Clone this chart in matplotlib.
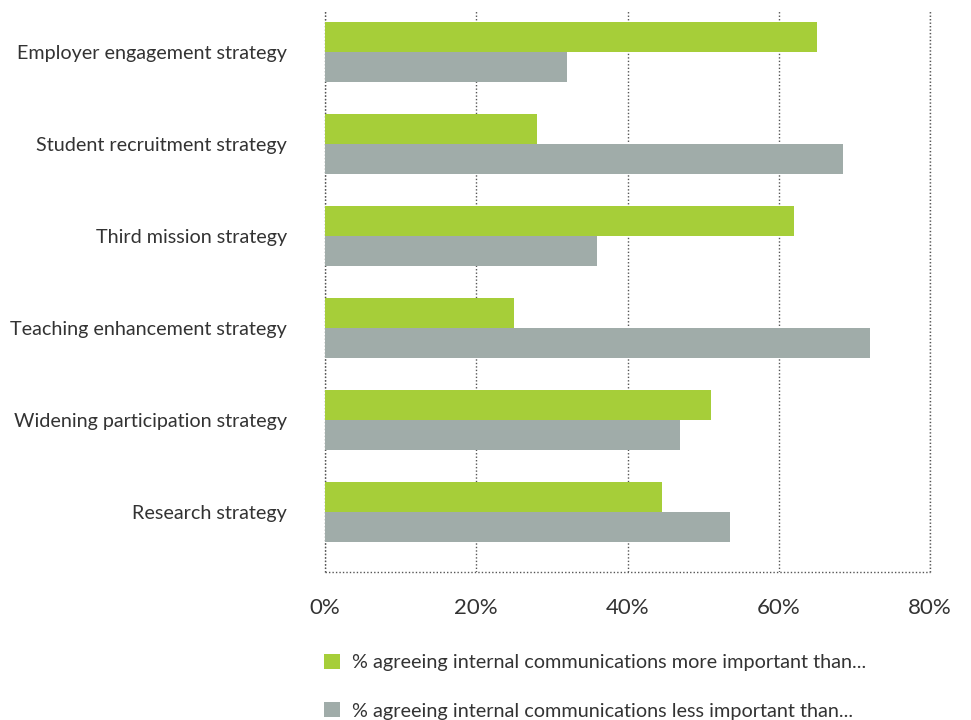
import matplotlib
matplotlib.use("Agg")
import matplotlib.pyplot as plt
import numpy as np

plt.rcParams['font.family'] = ['Lato', 'DejaVu Sans']

categories = ["Employer engagement strategy", "Student recruitment strategy",
              "Third mission strategy", "Teaching enhancement strategy",
              "Widening participation strategy", "Research strategy"]
more_important = [65, 28, 62, 25, 51, 44.6]
less_important = [32, 68.5, 36, 72, 47, 53.6]
xticks = [0, 20, 40, 60, 80]
legend_labels = ["% agreeing internal communications more important than...",
                 "% agreeing internal communications less important than..."]

green = "#A6CE39"
grey = "#A0ACA9"
text_col = "#333333"
dot = (0, (1, 1.5))

fig = plt.figure(figsize=(9.71, 7.2), dpi=100)
ax = fig.add_axes([0.3347, 0.2056, 0.6231, 0.7792])

y = np.arange(len(categories))
h = 0.33
b1 = ax.barh(y - h / 2, more_important, height=h, color=green, zorder=3)
b2 = ax.barh(y + h / 2, less_important, height=h, color=grey, zorder=3)

ax.set_xlim(0, 80)
ax.set_ylim(len(categories) - 1 + 0.652, -0.446)
ax.set_xticks(xticks)
ax.set_xticklabels([f"{v}%" for v in xticks], fontsize=16, color=text_col)
ax.set_yticks(y)
ax.set_yticklabels(categories, fontsize=14.2, color=text_col)
ax.tick_params(axis='both', length=0)
ax.tick_params(axis='x', pad=19)
ax.tick_params(axis='y', pad=27.5)

ax.grid(axis='x', linestyle=dot, color="#555555", linewidth=1, zorder=0)
ax.spines['top'].set_visible(False)
for s in ['left', 'bottom', 'right']:
    ax.spines[s].set_linestyle(dot)
    ax.spines[s].set_color("#555555")
    ax.spines[s].set_linewidth(1)
    ax.spines[s].set_capstyle('butt')

fig.legend([b1, b2], legend_labels, loc='upper left',
           bbox_to_anchor=(0.334, 0.092), frameon=False,
           handlelength=0.8, handleheight=0.8, handletextpad=0.6,
           labelspacing=1.55, fontsize=14.3, labelcolor=text_col,
           borderaxespad=0, borderpad=0)

fig.savefig("out.png", dpi=100)
